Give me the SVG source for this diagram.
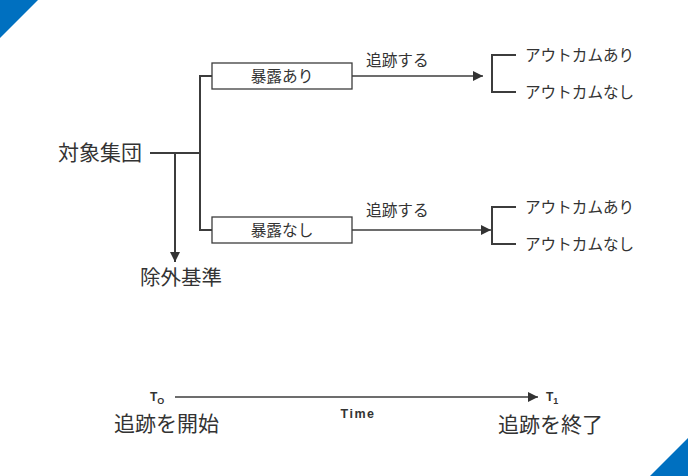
<svg xmlns="http://www.w3.org/2000/svg" width="688" height="476" viewBox="0 0 688 476">
<defs>
<marker id="ah" viewBox="0 0 10 10" refX="10" refY="5" markerWidth="14" markerHeight="10" markerUnits="userSpaceOnUse" orient="auto">
<path d="M0,0 L10,5 L0,10 z" fill="#333"/>
</marker>
<style>
.ln{stroke:#3c3c3c;stroke-width:2;fill:none}
.thin{stroke:#3c3c3c;stroke-width:1.5;fill:none}
.box{fill:#fff;stroke:#3c3c3c;stroke-width:1.3}
.jp{font-family:"Noto Sans CJK JP","Noto Sans",sans-serif;fill:#333}
.en{font-family:"Liberation Sans",Arial,sans-serif;fill:#333;font-weight:bold}
</style>
</defs>
<rect width="688" height="476" fill="#fff"/>
<polygon points="0,0 38,0 0,38" fill="#0070C0"/>
<polygon points="688,438 688,476 650,476" fill="#0070C0"/>

<g id="connectors">
<path class="ln" d="M150,153 H200"/>
<path class="ln" d="M212,76 H200 V230 H212"/>
<path class="ln" d="M175,153 V262" marker-end="url(#ah)"/>
<path class="thin" d="M352,76 H483" marker-end="url(#ah)"/>
<path class="thin" d="M352,230 H491" marker-end="url(#ah)"/>
<path class="ln" d="M516,55 H492 V92 H516"/>
<path class="ln" d="M516,207 H492 V244 H516"/>
<path class="thin" d="M175,397 H538" marker-end="url(#ah)"/>
</g>

<g id="cohort"><text class="jp" x="58" y="160" font-size="21">対象集団</text></g>
<g id="exclusion"><text class="jp" x="140" y="285" font-size="20.5">除外基準</text></g>

<g id="exposed">
<rect class="box" x="212" y="63" width="140" height="26"/>
<text class="jp" x="282" y="81.5" font-size="15.7" text-anchor="middle">暴露あり</text>
</g>
<g id="unexposed">
<rect class="box" x="212" y="217" width="140" height="26"/>
<text class="jp" x="282" y="235.5" font-size="15.7" text-anchor="middle">暴露なし</text>
</g>

<g id="follow1"><text class="jp" x="366" y="66" font-size="15.7">追跡する</text></g>
<g id="follow2"><text class="jp" x="366" y="216" font-size="15.7">追跡する</text></g>

<g id="out1a"><text class="jp" x="525" y="60.5" font-size="15.6">アウトカムあり</text></g>
<g id="out1b"><text class="jp" x="525" y="97.5" font-size="15.6">アウトカムなし</text></g>
<g id="out2a"><text class="jp" x="525" y="212.5" font-size="15.6">アウトカムあり</text></g>
<g id="out2b"><text class="jp" x="525" y="249.5" font-size="15.6">アウトカムなし</text></g>

<g id="t0">
<text class="en" x="150" y="401" font-size="12">T<tspan font-size="9" dy="3">O</tspan></text>
<text class="jp" x="114" y="431" font-size="21">追跡を開始</text>
</g>
<g id="time"><text class="en" x="358" y="418" font-size="12.5" letter-spacing="1.5" text-anchor="middle">Time</text></g>
<g id="t1">
<text class="en" x="546" y="401" font-size="12">T<tspan font-size="9" dy="3">1</tspan></text>
<text class="jp" x="498" y="432" font-size="21">追跡を終了</text>
</g>
</svg>
